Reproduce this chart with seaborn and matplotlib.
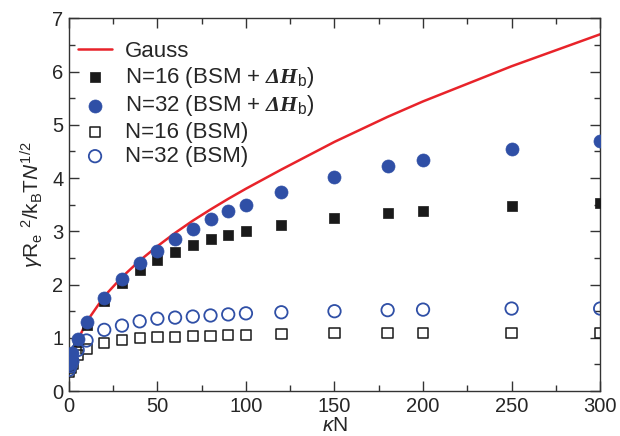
import numpy as np
import pandas as pd
import matplotlib
matplotlib.use("Agg")
import matplotlib.pyplot as plt
from matplotlib.ticker import MultipleLocator
import seaborn as sns

# ---- data ----
kN = [0, 1, 2, 5, 10, 20, 30, 40, 50, 60, 70, 80, 90, 100, 120, 150, 180, 200, 250, 300]
gauss_x = [0, 1, 2, 5, 10, 20, 30, 40, 50, 60, 70, 80, 90, 100, 120, 150, 180, 200, 250, 300]
gauss_y = [0.48, 0.58, 0.68, 0.95, 1.3, 1.78, 2.14, 2.45, 2.72, 2.97, 3.2, 3.41, 3.61, 3.8, 4.16, 4.68, 5.15, 5.44, 6.1, 6.7]
n16_bsm_dh = [0.45, 0.55, 0.65, 0.93, 1.25, 1.69, 2.03, 2.27, 2.46, 2.61, 2.75, 2.85, 2.94, 3.0, 3.11, 3.25, 3.34, 3.38, 3.47, 3.53]
n32_bsm_dh = [0.5, 0.6, 0.72, 0.97, 1.29, 1.74, 2.11, 2.41, 2.63, 2.86, 3.05, 3.23, 3.38, 3.5, 3.73, 4.02, 4.23, 4.34, 4.55, 4.7]
n16_bsm = [0.36, 0.44, 0.52, 0.68, 0.79, 0.9, 0.96, 1.0, 1.01, 1.02, 1.03, 1.04, 1.05, 1.05, 1.07, 1.09, 1.09, 1.09, 1.09, 1.09]
n32_bsm = [0.4, 0.47, 0.56, 0.77, 0.95, 1.15, 1.23, 1.31, 1.36, 1.38, 1.4, 1.42, 1.44, 1.46, 1.48, 1.5, 1.52, 1.53, 1.55, 1.55]
labels = [r"Gauss",
          r"N=16 (BSM + $\mathbfit{\Delta H}_{\mathrm{b}}$)",
          r"N=32 (BSM + $\mathbfit{\Delta H}_{\mathrm{b}}$)",
          r"N=16 (BSM)",
          r"N=32 (BSM)"]

sns.set_style("ticks")
plt.rcParams.update({
    "font.family": ["Liberation Sans", "DejaVu Sans"],
    "mathtext.fontset": "custom",
    "mathtext.rm": "Liberation Sans",
    "mathtext.it": "Liberation Sans:italic",
    "mathtext.bf": "Liberation Sans:bold",
    "mathtext.bfit": "Liberation Serif:italic:bold",
    "xtick.direction": "in",
    "ytick.direction": "in",
})

blue = "#2f4fa6"
red = "#e8232a"
dark = "#1a1a1a"

fig, ax = plt.subplots(figsize=(6.2, 4.36), dpi=100)
fig.subplots_adjust(left=0.111, right=0.968, top=0.958, bottom=0.103)

gdf = pd.DataFrame({"x": gauss_x, "y": gauss_y})
sns.lineplot(data=gdf, x="x", y="y", ax=ax, color=red, lw=1.8, label=labels[0])

sns.scatterplot(x=kN, y=n16_bsm_dh, ax=ax, marker="s", s=62, color=dark,
                edgecolor=dark, linewidth=0.5, label=labels[1], zorder=3)
sns.scatterplot(x=kN, y=n32_bsm_dh, ax=ax, marker="o", s=88, color=blue,
                edgecolor=blue, linewidth=0.5, label=labels[2], zorder=4)
sns.scatterplot(x=kN, y=n16_bsm, ax=ax, marker="s", s=55, facecolor="none",
                edgecolor=dark, linewidth=1.1, label=labels[3], zorder=3)
sns.scatterplot(x=kN, y=n32_bsm, ax=ax, marker="o", s=80, facecolor="none",
                edgecolor=blue, linewidth=1.3, label=labels[4], zorder=4)

ax.set_xlim(0, 300)
ax.set_ylim(0, 7)
ax.xaxis.set_major_locator(MultipleLocator(50))
ax.xaxis.set_minor_locator(MultipleLocator(25))
ax.yaxis.set_major_locator(MultipleLocator(1))
ax.yaxis.set_minor_locator(MultipleLocator(0.5))
ax.tick_params(which="both", top=True, right=True, direction="in", color="#333333",
               labelsize=14.5, pad=4)
ax.tick_params(which="major", length=7, width=1)
ax.tick_params(which="minor", length=4, width=1)
for sp in ax.spines.values():
    sp.set_visible(True)
    sp.set_color("#333333")
    sp.set_linewidth(1)

ax.set_xlabel(r"$\kappa$N", fontsize=15, labelpad=0)
ax.set_ylabel(r"$\gamma$R$_{\mathrm{e}}$ $^{2}$/k$_{\mathrm{B}}$T$\mathit{N}^{1/2}$", fontsize=15, labelpad=4)

leg = ax.legend(loc="upper left", frameon=False, fontsize=16, handlelength=1.5,
                handletextpad=0.6, labelspacing=0.15, borderaxespad=0.0,
                borderpad=0.0, bbox_to_anchor=(0.018, 0.94))

fig.savefig("out.png", dpi=100)
